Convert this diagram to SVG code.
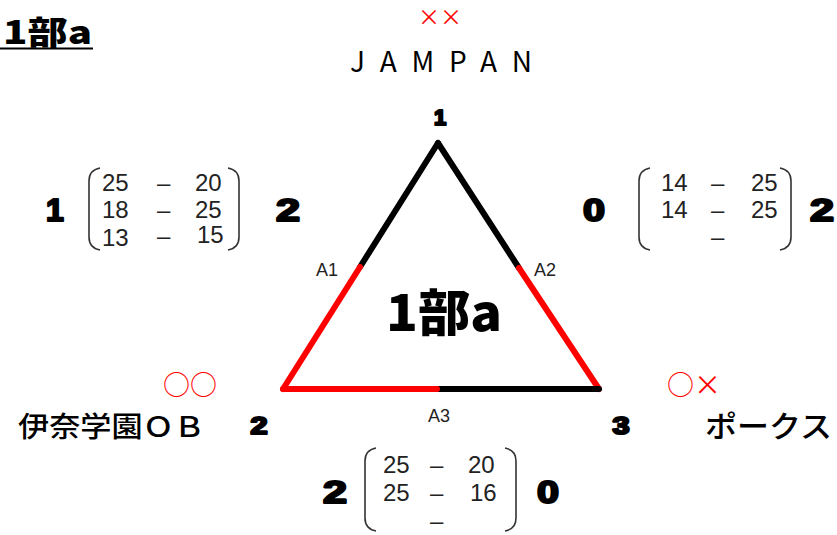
<svg xmlns="http://www.w3.org/2000/svg" width="837" height="535" viewBox="0 0 837 535">
<style>
.b{font-family:"Noto Sans CJK JP","Liberation Sans",sans-serif;font-weight:900;fill:#000}
.d{font-family:"Liberation Sans",sans-serif;font-weight:bold;fill:#000;stroke:#000;stroke-width:2.2;stroke-linejoin:round}
.n{font-family:"Liberation Sans","Noto Sans CJK JP",sans-serif;font-size:24px;fill:#222}
.j{font-family:"Noto Sans CJK JP","Liberation Sans",sans-serif;fill:#000}
.r{font-family:"Noto Sans CJK JP","Liberation Sans",sans-serif;fill:#f00}
.p{fill:none;stroke:#333;stroke-width:1.6}
.lab{font-family:"Liberation Sans",sans-serif;font-size:18px;fill:#222}
.e{stroke-width:6;stroke-linecap:round;fill:none}
</style>
<g id="title">
<text class="b" x="3" y="44" font-size="32" textLength="89" lengthAdjust="spacingAndGlyphs">1部a</text>
<line x1="0" y1="48.5" x2="93" y2="48.5" stroke="#000" stroke-width="2"/>
</g>
<g id="connectors">
<line class="e" x1="438" y1="143" x2="360" y2="267" stroke="#000"/>
<line class="e" x1="360" y1="267" x2="283" y2="389" stroke="#f00"/>
<line class="e" x1="438" y1="143" x2="519" y2="268" stroke="#000"/>
<line class="e" x1="519" y1="268" x2="599" y2="389" stroke="#f00"/>
<line class="e" x1="437" y1="389" x2="599" y2="389" stroke="#000"/>
<line class="e" x1="283" y1="389" x2="437" y2="389" stroke="#f00"/>
</g>
<g id="center"><text class="b" x="386" y="331" font-size="50" textLength="116" lengthAdjust="spacingAndGlyphs">1部a</text></g>
<g id="labels">
<text class="lab" x="316" y="276">A1</text>
<text class="lab" x="534" y="276">A2</text>
<text class="lab" x="428" y="422">A3</text>
</g>
<g id="node1">
<text class="r" x="440" y="25" font-size="22" text-anchor="middle">××</text>
<text class="j" x="350" y="72" font-size="28" textLength="182" lengthAdjust="spacing">JAMPAN</text>
<text class="d" x="440" y="125" font-size="22" text-anchor="middle">1</text>
</g>
<g id="node2">
<text class="r" x="190" y="395" font-size="27" text-anchor="middle">○○</text>
<text class="j" x="18" y="437" font-size="28" font-weight="500" textLength="187" lengthAdjust="spacingAndGlyphs">伊奈学園ＯＢ</text>
<text class="d" x="259" y="434" font-size="23" text-anchor="middle" textLength="17" lengthAdjust="spacingAndGlyphs">2</text>
</g>
<g id="node3">
<text class="r" x="694" y="395" font-size="27" text-anchor="middle">○×</text>
<text class="d" x="621" y="434" font-size="23" text-anchor="middle" textLength="17" lengthAdjust="spacingAndGlyphs">3</text>
<text class="j" x="705" y="437" font-size="30" font-weight="500" textLength="127" lengthAdjust="spacingAndGlyphs">ポークス</text>
</g>
<g id="match12">
<text class="d" x="55" y="221" font-size="32" text-anchor="middle">1</text>
<path class="p" d="M100,168 Q89,170 89,181 L89,237 Q89,248 100,250"/>
<text class="n" x="102" y="191">25</text><text class="n" x="157" y="191">–</text><text class="n" x="195" y="191">20</text>
<text class="n" x="102" y="218">18</text><text class="n" x="157" y="218">–</text><text class="n" x="195" y="218">25</text>
<text class="n" x="102" y="246">13</text><text class="n" x="157" y="244">–</text><text class="n" x="197" y="243">15</text>
<path class="p" d="M228,168 Q239,170 239,181 L239,237 Q239,248 228,250"/>
<text class="d" x="288" y="221" font-size="32" text-anchor="middle" textLength="24" lengthAdjust="spacingAndGlyphs">2</text>
</g>
<g id="match13">
<text class="d" x="594" y="221" font-size="32" text-anchor="middle" textLength="22" lengthAdjust="spacingAndGlyphs">0</text>
<path class="p" d="M650,168 Q639,170 639,181 L639,237 Q639,248 650,250"/>
<text class="n" x="661" y="191">14</text><text class="n" x="711" y="191">–</text><text class="n" x="751" y="191">25</text>
<text class="n" x="661" y="218">14</text><text class="n" x="711" y="218">–</text><text class="n" x="751" y="218">25</text>
<text class="n" x="711" y="245">–</text>
<path class="p" d="M780,168 Q791,170 791,181 L791,237 Q791,248 780,250"/>
<text class="d" x="822" y="221" font-size="32" text-anchor="middle" textLength="24" lengthAdjust="spacingAndGlyphs">2</text>
</g>
<g id="match23">
<text class="d" x="335" y="503" font-size="32" text-anchor="middle" textLength="24" lengthAdjust="spacingAndGlyphs">2</text>
<path class="p" d="M376,448 Q365,450 365,461 L365,518 Q365,529 376,531"/>
<text class="n" x="383" y="473">25</text><text class="n" x="430" y="473">–</text><text class="n" x="468" y="473">20</text>
<text class="n" x="383" y="501">25</text><text class="n" x="430" y="501">–</text><text class="n" x="470" y="501">16</text>
<text class="n" x="430" y="529">–</text>
<path class="p" d="M505,448 Q516,450 516,461 L516,518 Q516,529 505,531"/>
<text class="d" x="548" y="503" font-size="32" text-anchor="middle" textLength="22" lengthAdjust="spacingAndGlyphs">0</text>
</g>
</svg>
